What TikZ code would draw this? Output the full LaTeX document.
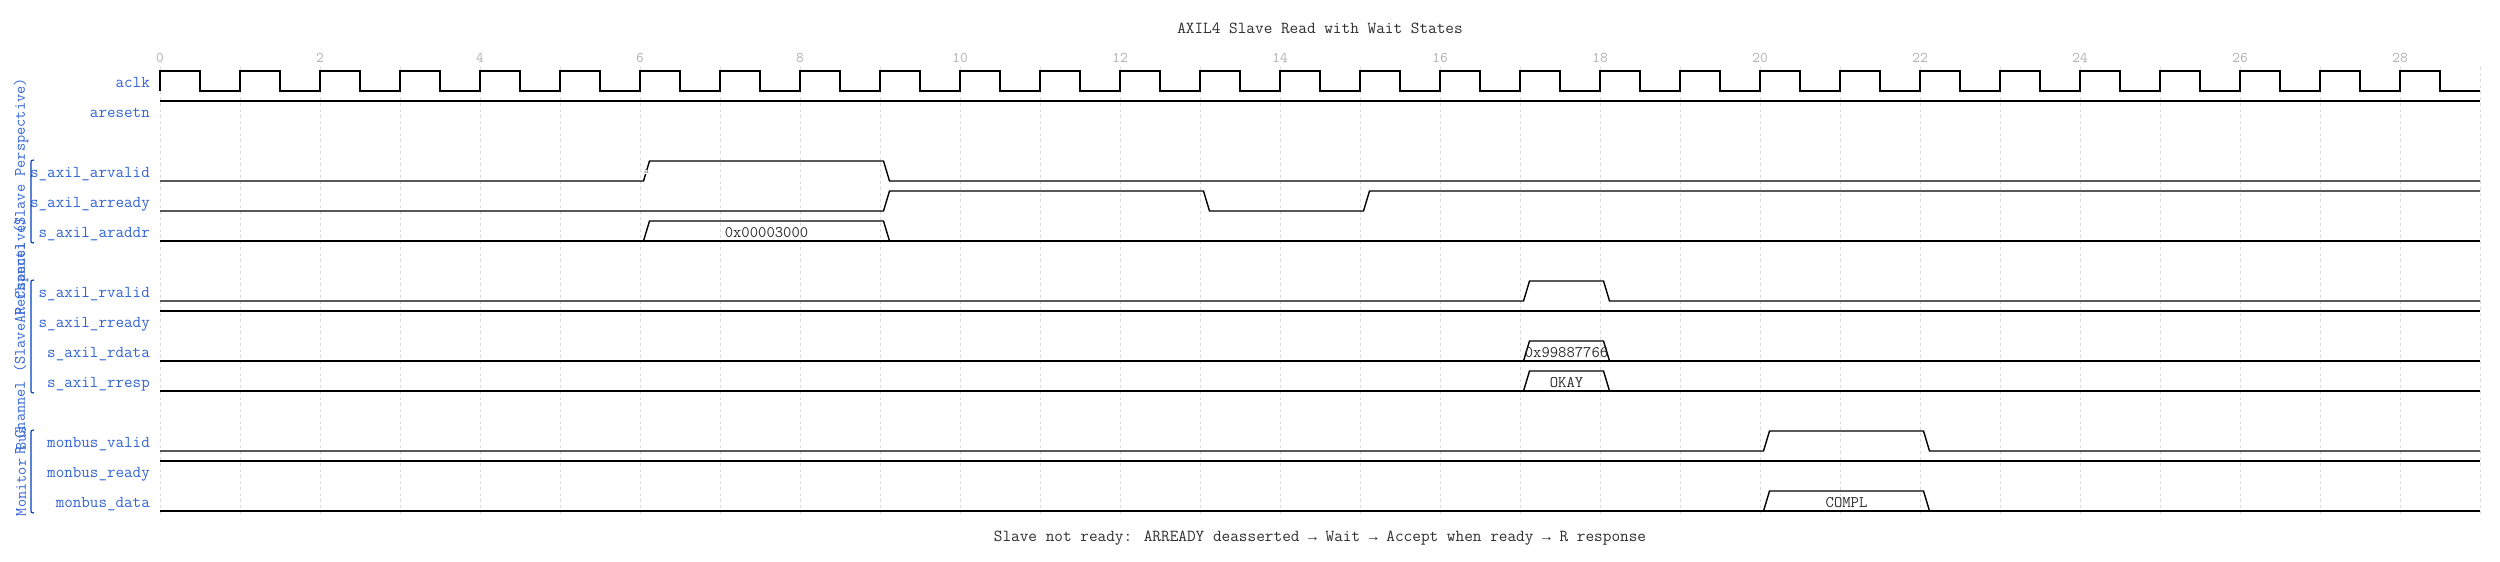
\documentclass[tikz,border=0pt]{standalone}
\usepackage{fontspec}
\newfontfamily\arrowfont{Liberation Mono}
\usetikzlibrary{positioning}
\definecolor{lblblue}{RGB}{50,100,215}
\definecolor{grpblue}{RGB}{0,65,196}
\definecolor{gridgray}{RGB}{218,218,218}
\definecolor{tickgray}{RGB}{175,175,175}
\definecolor{txtgray}{RGB}{45,45,45}
\newcommand{\rarr}{{\arrowfont\fontsize{14.7}{17}\selectfont →}}

\begin{document}
\begin{tikzpicture}[
    x=1pt, y=-1pt,
    every node/.style={inner sep=0pt},
    wave/.style={line width=1.4pt, line join=miter},
    gridline/.style={gridgray, line width=0.7pt, dash pattern=on 3pt off 3pt},
    lbl/.style={
        anchor=base east,
        text=lblblue,
        font=\fontsize{16.6}{19}\selectfont\ttfamily
    },
    grp/.style={
        rotate=90,
        text=lblblue,
        font=\fontsize{15.9}{19}\selectfont\ttfamily
    },
    brace/.style={grpblue, line width=1.2pt},
    dat/.style={
        anchor=base,
        text=txtgray,
        font=\fontsize{16.2}{19}\selectfont\ttfamily
    },
    ticklbl/.style={
        anchor=base,
        text=tickgray,
        font=\fontsize{14.9}{17}\selectfont\ttfamily
    },
    caption/.style={
        anchor=base,
        text=txtgray,
        font=\fontsize{16.8}{19}\selectfont\ttfamily
    }
]
\useasboundingbox (0,0) rectangle (2500,562);

% title and time axis
\node[caption] (title) at (1320,33.5) {AXIL4 Slave Read with Wait States};
\foreach \k in {0,...,14} {
    \pgfmathtruncatemacro{\tval}{2*\k}
    \node[ticklbl] (tick\k) at ({160+160*\k},62) {\tval};
}
\foreach \i in {0,...,29}
    \draw[gridline] ({160+80*\i},67) -- ({160+80*\i},515);

% signal names
\node[lbl] (aclk)    at (150,87)  {aclk};
\node[lbl] (aresetn) at (150,117) {aresetn};
\node[lbl] (arvalid) at (150,177) {s\_axil\_arvalid};
\node[lbl] (arready) at (150,207) {s\_axil\_arready};
\node[lbl] (araddr)  at (150,237) {s\_axil\_araddr};
\node[lbl] (rvalid)  at (150,297) {s\_axil\_rvalid};
\node[lbl] (rready)  at (150,327) {s\_axil\_rready};
\node[lbl] (rdata)   at (150,357) {s\_axil\_rdata};
\node[lbl] (rresp)   at (150,387) {s\_axil\_rresp};
\node[lbl] (mvalid)  at (150,447) {monbus\_valid};
\node[lbl] (mready)  at (150,477) {monbus\_ready};
\node[lbl] (mdata)   at (150,507) {monbus\_data};

% groups
\draw[brace] (34,160) .. controls (31,160) .. (31,165) -- (31,238) .. controls (31,243) .. (34,243);
\draw[brace] (34,280) .. controls (31,280) .. (31,285) -- (31,388) .. controls (31,393) .. (34,393);
\draw[brace] (34,430) .. controls (31,430) .. (31,435) -- (31,508) .. controls (31,513) .. (34,513);
\node[grp] (grpar)  at (21,201) {AR Channel (Slave Perspective)};
\node[grp] (grpr)   at (21,336) {R Channel (Slave Perspective)};
\node[grp] (grpmon) at (21,471) {Monitor Bus};

% clock
\draw[wave] (160,91) \foreach \i in {0,...,28} {
    -- ({160+80*\i},71) -- ({200+80*\i},71) -- ({200+80*\i},91) -- ({240+80*\i},91)
};

% AR channel
\draw[wave] (160,101) -- (2480,101);
\draw[wave] (160,181) -- (643.5,181) -- (649.5,161) -- (883.5,161) -- (889.5,181) -- (2480,181);
\node[fill=white, text=gray, font=\fontsize{9}{10}\selectfont\ttfamily, inner sep=0.3pt] (marka) at (646.5,172) {a};
\draw[wave] (160,211) -- (883.5,211) -- (889.5,191) -- (1203.5,191) -- (1209.5,211)
    -- (1363.5,211) -- (1369.5,191) -- (2480,191);
\draw[wave] (160,241) -- (2480,241);
\draw[wave] (643.5,241) -- (649.5,221) -- (883.5,221) -- (889.5,241);
\node[dat] (addr) at (766.5,237) {0x00003000};

% R channel
\draw[wave] (160,301) -- (1523.5,301) -- (1529.5,281) -- (1603.5,281) -- (1609.5,301) -- (2480,301);
\draw[wave] (160,311) -- (2480,311);
\draw[wave] (160,361) -- (2480,361);
\draw[wave] (1523.5,361) -- (1529.5,341) -- (1603.5,341) -- (1609.5,361);
\node[dat] (rdval) at (1566.5,357) {0x99887766};
\draw[wave] (160,391) -- (2480,391);
\draw[wave] (1523.5,391) -- (1529.5,371) -- (1603.5,371) -- (1609.5,391);
\node[dat] (rsval) at (1566.5,387) {OKAY};

% monitor bus
\draw[wave] (160,451) -- (1763.5,451) -- (1769.5,431) -- (1923.5,431) -- (1929.5,451) -- (2480,451);
\draw[wave] (160,461) -- (2480,461);
\draw[wave] (160,511) -- (2480,511);
\draw[wave] (1763.5,511) -- (1769.5,491) -- (1923.5,491) -- (1929.5,511);
\node[dat] (mdval) at (1846.5,507) {COMPL};

\node[caption] (note) at (1320,541)
    {Slave not ready: ARREADY deasserted \rarr{} Wait \rarr{} Accept when ready \rarr{} R response};

\end{tikzpicture}
\end{document}
